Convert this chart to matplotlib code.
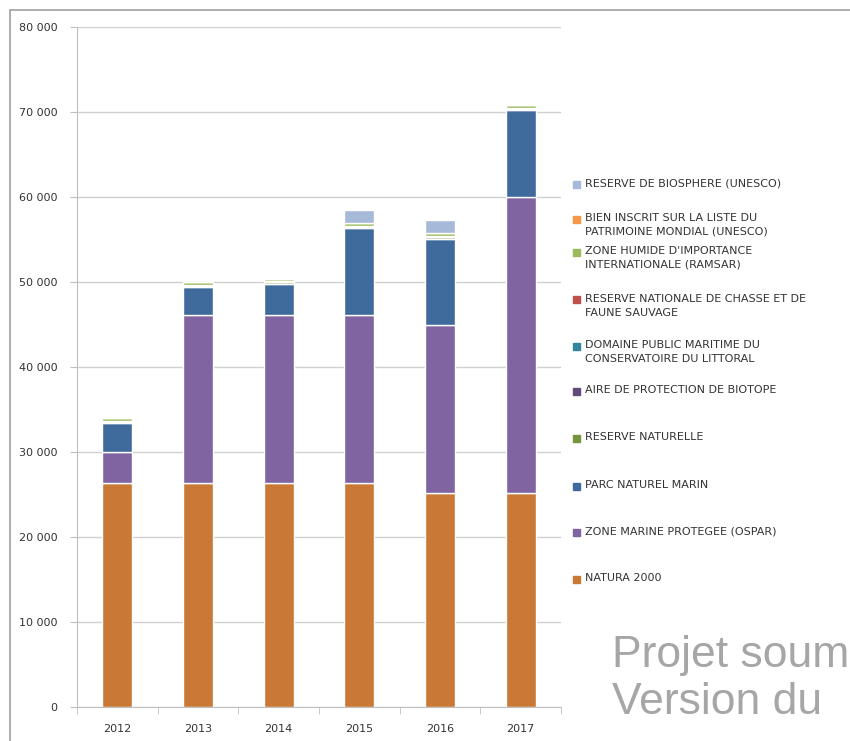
import numpy as np
import matplotlib.pyplot as plt
from matplotlib.patches import Rectangle

# Data (surfaces per year)
years = ['2012', '2013', '2014', '2015', '2016', '2017']

natura_2000 = [26400, 26400, 26400, 26400, 25200, 25200]
zone_ospar = [3600, 19700, 19700, 19700, 19700, 34800]
parc_marin = [3400, 3300, 3700, 10200, 10200, 10200]
reserve_nat = [150, 150, 150, 150, 150, 150]
biotope = [40, 40, 40, 40, 40, 40]
dpm_littoral = [40, 40, 40, 40, 40, 40]
chasse = [30, 30, 30, 30, 30, 30]
ramsar = [300, 300, 350, 400, 400, 350]
unesco_bien = [20, 20, 20, 20, 20, 20]
biosphere = [0, 0, 0, 1500, 1500, 0]

series = [natura_2000, zone_ospar, parc_marin, reserve_nat, biotope,
          dpm_littoral, chasse, ramsar, unesco_bien, biosphere]
labels = ['NATURA 2000',
          'ZONE MARINE PROTEGEE (OSPAR)',
          'PARC NATUREL MARIN',
          'RESERVE NATURELLE',
          'AIRE DE PROTECTION DE BIOTOPE',
          'DOMAINE PUBLIC MARITIME DU\nCONSERVATOIRE DU LITTORAL',
          'RESERVE NATIONALE DE CHASSE ET DE\nFAUNE SAUVAGE',
          "ZONE HUMIDE D'IMPORTANCE\nINTERNATIONALE (RAMSAR)",
          'BIEN INSCRIT SUR LA LISTE DU\nPATRIMOINE MONDIAL (UNESCO)',
          'RESERVE DE BIOSPHERE (UNESCO)']
colors = ['#C97935', '#8064A2', '#3F6A9C', '#77933C', '#604A7B',
          '#31859C', '#C0504D', '#9BBB59', '#F79646', '#A7B9D9']

W, H = 850, 741
fig = plt.figure(figsize=(W / 100, H / 100), dpi=100)
ax = fig.add_axes([77 / W, (H - 707) / H, (561 - 77) / W, (707 - 27) / H])

x = np.arange(len(years))
bottom = np.zeros(len(years))
for vals, col in zip(series, colors):
    ax.bar(x, vals, width=0.37, bottom=bottom, color=col,
           edgecolor='white', linewidth=1.0, zorder=3)
    bottom += np.array(vals)

ax.set_xlim(-0.5, len(years) - 0.5)
ax.set_ylim(0, 80000)
ax.set_yticks(np.arange(0, 80001, 10000))
ax.set_yticklabels(['{:,}'.format(v).replace(',', ' ') for v in range(0, 80001, 10000)])
ax.set_xticks(x)
ax.set_xticklabels(years)
ax.set_xticks(np.arange(-0.5, len(years), 1), minor=True)
ax.tick_params(axis='x', which='major', length=0, pad=12, labelsize=8, labelcolor='#333333')
ax.tick_params(axis='x', which='minor', length=5, color='#BFBFBF')
ax.tick_params(axis='y', length=5, color='#BFBFBF', labelsize=8, labelcolor='#333333', pad=9)
ax.grid(axis='y', color='#D0D0D0', linewidth=1, zorder=0)
for s in ['top', 'right']:
    ax.spines[s].set_visible(False)
for s in ['left', 'bottom']:
    ax.spines[s].set_color('#BFBFBF')

# legend, drawn by hand (Excel-like uneven spacing)
leg_y = [579, 532, 486, 438, 391, 346, 300, 252, 219, 184]
for lab, col, yy in zip(labels, colors, leg_y):
    fig.add_artist(Rectangle((573 / W, 1 - (yy + 3.5) / H), 7 / W, 7 / H,
                             transform=fig.transFigure, color=col))
    fig.text(585 / W, 1 - (yy - 6) / H, lab, fontsize=8, color='#333333',
             va='top', ha='left', linespacing=1.45)

# outer frame of the screenshot
fig.add_artist(Rectangle((10 / W, -0.1), 1.2, 1.1 - 10 / H, transform=fig.transFigure,
                         fill=False, edgecolor='#A0A0A0', linewidth=1.2))

# watermark (cut by the right edge, as in the screenshot)
fig.text(612 / W, 1 - 667 / H, 'Projet soum', fontsize=32, color='#A6A6A6',
         family='Liberation Sans', va='baseline')
fig.text(612 / W, 1 - 714 / H, 'Version du', fontsize=32, color='#A6A6A6',
         family='Liberation Sans', va='baseline')

fig.savefig('out.png', dpi=100)
